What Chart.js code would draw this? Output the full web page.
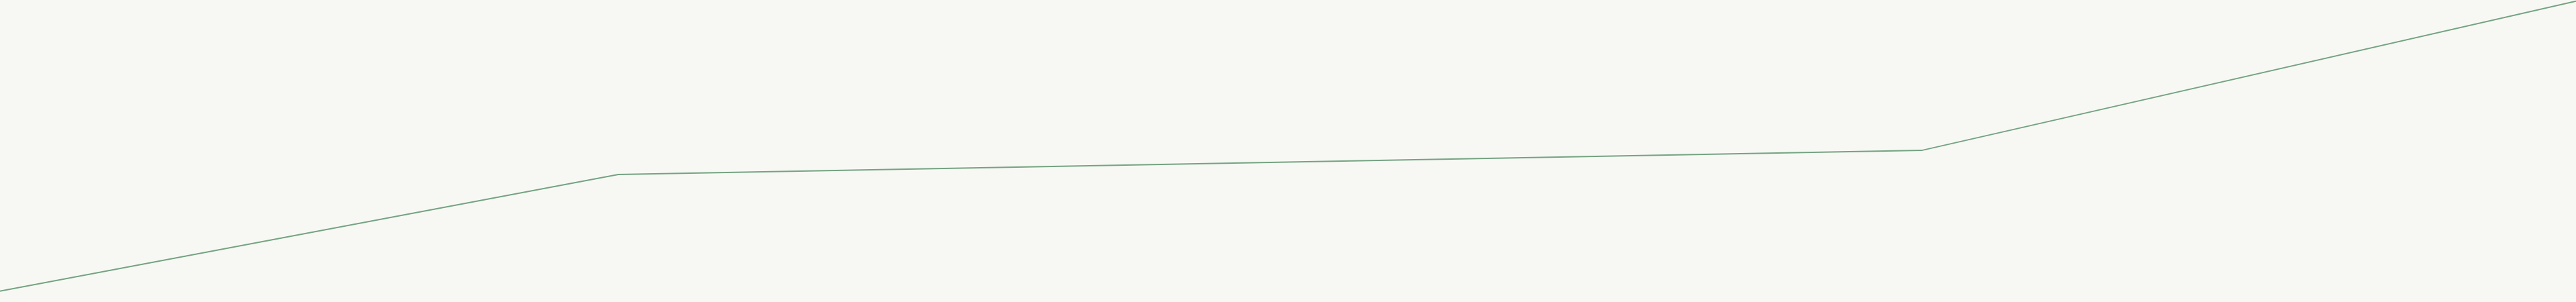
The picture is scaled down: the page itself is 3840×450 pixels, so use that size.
<!DOCTYPE html>
<html>
<head>
<meta charset="utf-8">
<script src="https://cdn.jsdelivr.net/npm/chart.js@4/dist/chart.umd.min.js"></script>
<style>
  html, body { margin: 0; padding: 0; background: #f7f8f3; overflow: hidden; }
  #wrap { width: 3840px; height: 450px; }
</style>
</head>
<body>
<div id="wrap"><canvas id="linha"></canvas></div>
<script>
// positions along x (0-100) and values (0-100)
var xValues = [0, 24.0, 74.6, 100];
var yValues = [3.6, 42.2, 50.2, 99.6];

var points = xValues.map(function (x, i) {
  return { x: x, y: yValues[i] };
});

document.addEventListener("DOMContentLoaded", function () {
  var ctx = document.getElementById("linha").getContext("2d");
  new Chart(ctx, {
    type: "line",
    data: {
      datasets: [
        {
          data: points,
          borderColor: "#74a382",
          borderWidth: 2,
          pointRadius: 0,
          tension: 0,
          fill: false,
        },
      ],
    },
    options: {
      responsive: true,
      maintainAspectRatio: false,
      animation: false,
      layout: { padding: 0 },
      plugins: { legend: { display: false }, tooltip: { enabled: false } },
      scales: {
        x: { type: "linear", min: 0, max: 100, display: false },
        y: { min: 0, max: 100, display: false },
      },
    },
  });
});
</script>
</body>
</html>
